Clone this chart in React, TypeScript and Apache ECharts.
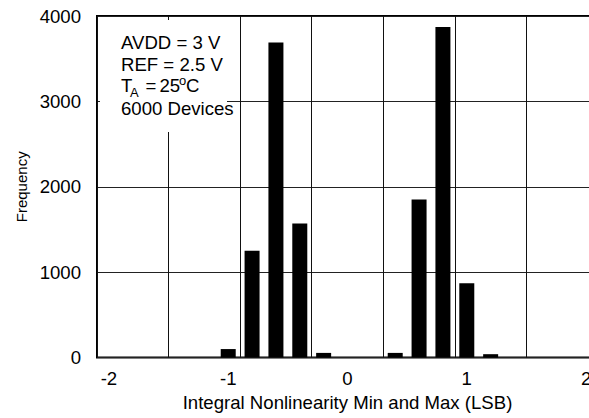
import React, { useEffect, useRef } from "react";
import * as echarts from "echarts";

// Histogram bins (ILSB) and counts
const binCenters = [-1.0, -0.8, -0.6, -0.4, -0.2, 0.0, 0.2, 0.4, 0.6, 0.8, 1.0, 1.2];
const frequencies = [100, 1250, 3690, 1570, 55, 0, 0, 55, 1850, 3870, 870, 40];
const xTickLabels = [-2, -1, 0, 1, 2];
const yMin = 0;
const yMax = 4000;
const yStep = 1000;
const noteLines = ["AVDD = 3 V", "REF = 2.5 V", "6000 Devices"];
const xTitle = "Integral Nonlinearity Min and Max (LSB)";
const yTitle = "Frequency";

const FONT = "'Liberation Sans', Arial, Helvetica, sans-serif";
const FS = 18.6;

export default function App() {
  const ref = useRef<HTMLDivElement>(null);
  useEffect(() => {
    if (!ref.current) return;
    const chart = echarts.init(ref.current, undefined, { renderer: "svg" });
    const data = binCenters.map((x, i) => [x, frequencies[i]]);
    const textStyle = (text: string, x: number, y: number, size = FS) => ({
      type: "text",
      x,
      y,
      z: 101,
      style: { text, fill: "#000", fontSize: size, fontFamily: FONT, align: "left", verticalAlign: "middle" },
    });
    chart.setOption({
      animation: false,
      backgroundColor: "#fff",
      textStyle: { fontFamily: FONT },
      grid: {
        left: 97,
        top: 16,
        width: 501,
        height: 341.6,
        show: true,
        borderColor: "#000",
        borderWidth: 2,
        backgroundColor: "transparent",
        containLabel: false,
        outerBoundsMode: "none",
      },
      xAxis: [
        {
          type: "value",
          min: -2.1,
          max: 2.1,
          interval: 0.1,
          axisLine: { show: false },
          axisTick: { show: false },
          splitLine: { show: false },
          axisLabel: {
            interval: 0,
            color: "#000",
            fontSize: FS,
            fontFamily: FONT,
            margin: 11,
            formatter: (v: number) => {
              const r = Math.round(v * 10) / 10;
              return xTickLabels.includes(r) ? String(r) : "";
            },
          },
          name: xTitle,
          nameLocation: "middle",
          nameGap: 35,
          nameTextStyle: { color: "#000", fontSize: FS, fontFamily: FONT },
        },
        {
          type: "value",
          position: "top",
          min: 0,
          max: 7,
          interval: 1,
          axisLine: { show: false },
          axisTick: { show: false },
          axisLabel: { show: false },
          splitLine: { show: true, lineStyle: { color: "#111", width: 1 } },
        },
      ],
      yAxis: {
        type: "value",
        min: yMin,
        max: yMax,
        interval: yStep,
        axisLine: { show: false },
        axisTick: { show: false },
        splitLine: { show: true, lineStyle: { color: "#222", width: 1 } },
        axisLabel: {
          color: "#000",
          fontSize: FS,
          fontFamily: FONT,
          margin: 16,
          formatter: (v: number) => String(v),
        },
        name: yTitle,
        nameLocation: "middle",
        nameGap: 68,
        nameTextStyle: { color: "#000", fontSize: 15, fontFamily: FONT },
      },
      graphic: [
        { type: "rect", z: 100, shape: { x: 100, y: 20, width: 127, height: 112 }, style: { fill: "#fff" } },
        textStyle(noteLines[0], 121, 42.8),
        textStyle(noteLines[1], 121, 64.5),
        textStyle("T", 121, 85.5),
        textStyle("A", 130, 92.2, 13),
        textStyle("=", 145.5, 85.5),
        textStyle("25", 159.5, 85.5),
        textStyle("o", 179, 80.5, 13),
        textStyle("C", 186, 85.5),
        textStyle(noteLines[2], 121, 108.5),
      ],
      series: [
        {
          type: "bar",
          xAxisIndex: 0,
          yAxisIndex: 0,
          data,
          barWidth: 15,
          itemStyle: { color: "#000" },
          z: 3,
        },
      ],
    });
    return () => chart.dispose();
  }, []);
  return <div ref={ref} style={{ width: 589, height: 418, position: "absolute", left: 0, top: 0 }} />;
}
